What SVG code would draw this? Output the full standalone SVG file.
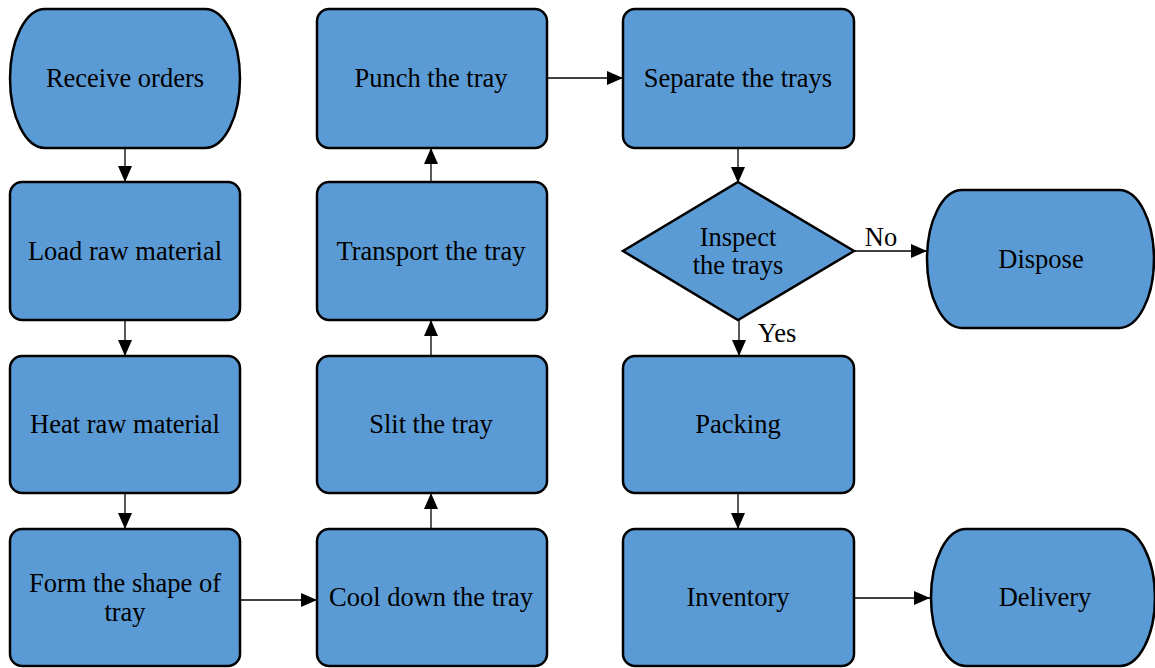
<svg xmlns="http://www.w3.org/2000/svg" width="1155" height="668" viewBox="0 0 1155 668">
<defs>
<marker id="ah" markerUnits="userSpaceOnUse" markerWidth="18" markerHeight="14" refX="16" refY="7" orient="auto">
<path d="M0,0 L16,7 L0,14 Z" fill="#000"/>
</marker>
<style>
.n{fill:#5B9BD5;stroke:#000;stroke-width:2.5}
.t{font-family:"Liberation Serif","Times New Roman",serif;font-size:26.5px;fill:#000;text-anchor:middle}
.c{stroke:#000;stroke-width:1.3;fill:none;marker-end:url(#ah)}
</style>
</defs>
<rect width="1155" height="668" fill="#fff"/>
<g id="connectors">
<line class="c" x1="125" y1="148" x2="125" y2="182"/>
<line class="c" x1="125" y1="320" x2="125" y2="356"/>
<line class="c" x1="125" y1="493" x2="125" y2="529"/>
<line class="c" x1="238" y1="600" x2="317" y2="600"/>
<line class="c" x1="431" y1="531" x2="431" y2="493"/>
<line class="c" x1="431" y1="358" x2="431" y2="320"/>
<line class="c" x1="431" y1="184" x2="431" y2="148"/>
<line class="c" x1="547" y1="78" x2="623" y2="78"/>
<line class="c" x1="738" y1="148" x2="738" y2="183"/>
<line class="c" x1="854" y1="251" x2="927" y2="251"/>
<line class="c" x1="739" y1="320" x2="739" y2="356"/>
<line class="c" x1="738" y1="493" x2="738" y2="529"/>
<line class="c" x1="850" y1="598" x2="930" y2="598"/>
<text class="t" x="881" y="246">No</text>
<text class="t" x="777" y="342">Yes</text>
</g>
<g id="receive">
<path class="n" d="M45,9 H205 A35,69.5 0 0 1 205,148 H45 A35,69.5 0 0 1 45,9 Z"/>
<text class="t" x="125" y="87">Receive orders</text>
</g>
<g id="load">
<rect class="n" x="10" y="182" width="230" height="138" rx="12"/>
<text class="t" x="125" y="260">Load raw material</text>
</g>
<g id="heat">
<rect class="n" x="10" y="356" width="230" height="137" rx="12"/>
<text class="t" x="125" y="433">Heat raw material</text>
</g>
<g id="form">
<rect class="n" x="10" y="529" width="230" height="137" rx="12"/>
<text class="t" x="125" y="592">Form the shape of</text>
<text class="t" x="125" y="621">tray</text>
</g>
<g id="punch">
<rect class="n" x="317" y="9" width="230" height="139" rx="12"/>
<text class="t" x="431" y="87">Punch the tray</text>
</g>
<g id="transport">
<rect class="n" x="317" y="182" width="230" height="138" rx="12"/>
<text class="t" x="431" y="260">Transport the tray</text>
</g>
<g id="slit">
<rect class="n" x="317" y="356" width="230" height="137" rx="12"/>
<text class="t" x="431" y="433">Slit the tray</text>
</g>
<g id="cool">
<rect class="n" x="317" y="529" width="230" height="137" rx="12"/>
<text class="t" x="431" y="606">Cool down the tray</text>
</g>
<g id="separate">
<rect class="n" x="623" y="9" width="231" height="139" rx="12"/>
<text class="t" x="738" y="87">Separate the trays</text>
</g>
<g id="inspect">
<polygon class="n" points="738,182 854,251 738,320 623,251"/>
<text class="t" x="738" y="246">Inspect</text>
<text class="t" x="738" y="274">the trays</text>
</g>
<g id="dispose">
<path class="n" d="M962,190 H1119 A35,69 0 0 1 1119,328 H962 A35,69 0 0 1 962,190 Z"/>
<text class="t" x="1041" y="268">Dispose</text>
</g>
<g id="packing">
<rect class="n" x="623" y="356" width="231" height="137" rx="12"/>
<text class="t" x="738" y="433">Packing</text>
</g>
<g id="inventory">
<rect class="n" x="623" y="529" width="231" height="137" rx="12"/>
<text class="t" x="738" y="606">Inventory</text>
</g>
<g id="delivery">
<path class="n" d="M966,529 H1120 A35,68.5 0 0 1 1120,666 H966 A35,68.5 0 0 1 966,529 Z"/>
<text class="t" x="1045" y="606">Delivery</text>
</g>
</svg>
